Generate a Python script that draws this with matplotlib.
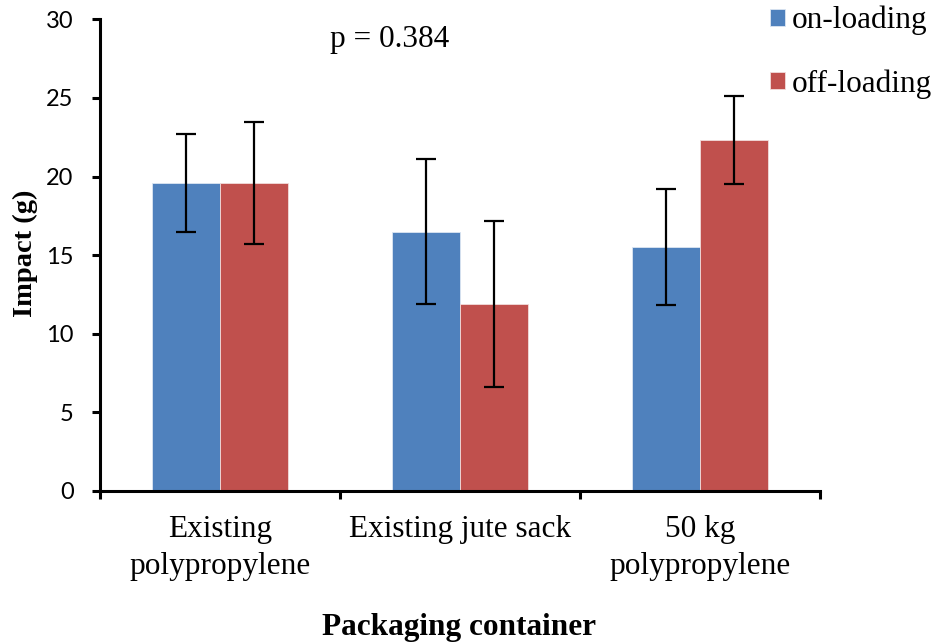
import numpy as np
import matplotlib
matplotlib.use('Agg')
import matplotlib.pyplot as plt

# data
categories = ['Existing\npolypropylene', 'Existing jute sack', '50 kg\npolypropylene']
on_loading = [19.6, 16.5, 15.5]
on_err = [3.1, 4.6, 3.7]
off_loading = [19.6, 11.9, 22.3]
off_err = [3.9, 5.3, 2.8]
y_ticks = [0, 5, 10, 15, 20, 25, 30]

blue = '#4F81BD'
red = '#C0504D'
serif = ['Liberation Serif', 'DejaVu Serif']

fig = plt.figure(figsize=(9.38, 6.44), dpi=100)
ax = fig.add_axes([0.1066, 0.2376, 0.7676, 0.7324])

x = np.arange(len(categories))
w = 0.285
err_style = dict(ecolor='black', elinewidth=1.6, capsize=7.5, capthick=1.6)
ax.bar(x - w / 2, on_loading, w, yerr=on_err, color=blue, edgecolor='#dce6f2',
       linewidth=0.6, label='on-loading', error_kw=err_style)
ax.bar(x + w / 2, off_loading, w, yerr=off_err, color=red, edgecolor='#f2dcdb',
       linewidth=0.6, label='off-loading', error_kw=err_style)

ax.set_xlim(-0.5, len(categories) - 0.5)
ax.set_ylim(0, 30)
ax.set_yticks(y_ticks)

# ticks at category boundaries, labels at centers
ax.set_xticks(np.arange(len(categories) + 1) - 0.5)
ax.set_xticklabels([])
ax.set_xticks(x, minor=True)
ax.set_xticklabels(categories, minor=True, fontfamily=serif, fontsize=22.5,
                   linespacing=1.38)
ax.tick_params(axis='x', which='major', direction='out', length=6, width=2.2)
ax.tick_params(axis='x', which='minor', length=0, pad=17)
ax.tick_params(axis='y', direction='out', length=6, width=2.2, pad=13)
for lab in ax.get_yticklabels():
    lab.set_fontfamily('Lato')
    lab.set_fontsize(17)

for s in ['top', 'right']:
    ax.spines[s].set_visible(False)
for s in ['left', 'bottom']:
    ax.spines[s].set_linewidth(2.2)

fig.text(0.027, 0.607, 'Impact (g)', fontfamily=serif, fontweight='bold', fontsize=20.5,
         rotation=90, ha='center', va='center')
fig.text(0.489, 0.014, 'Packaging container', fontfamily=serif, fontweight='bold',
         fontsize=22.5, ha='center', va='baseline')

ax.text(0.708, 28.25, 'p = 0.384', fontfamily=serif, fontsize=22.5, ha='center', va='baseline')

fig.legend(loc='upper left', bbox_to_anchor=(0.821, 0.991), frameon=False,
           prop={'family': serif, 'size': 22.5}, handlelength=0.47, handleheight=0.47,
           handletextpad=0.22, labelspacing=1.09, borderaxespad=0, borderpad=0)

fig.savefig('out.png', dpi=100)
